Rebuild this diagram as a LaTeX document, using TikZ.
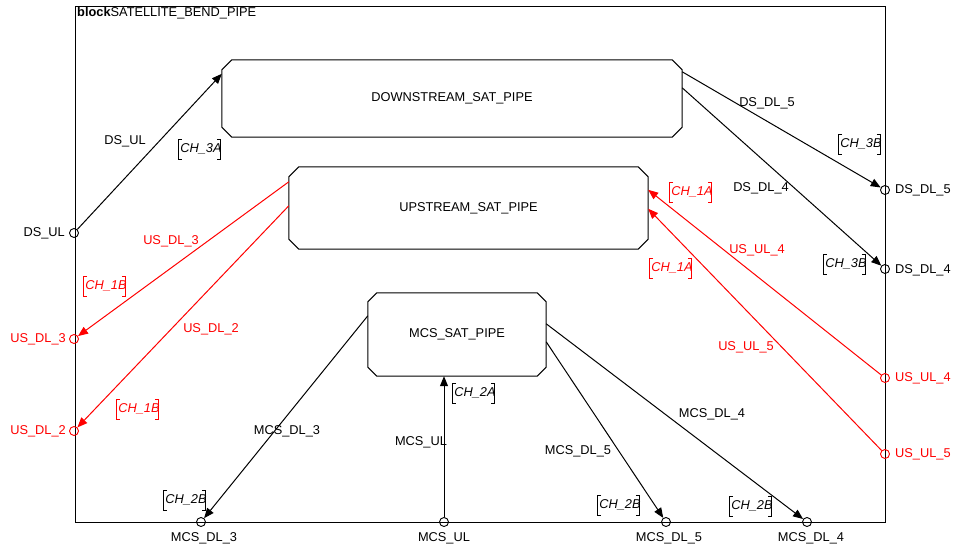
\documentclass[tikz,border=0pt]{standalone}
\usepackage{fontspec}
\setmainfont{Liberation Sans}
\usetikzlibrary{arrows.meta,calc}

\definecolor{linkred}{RGB}{255,0,0}

\tikzset{
  x=1pt, y=-1pt,
  every node/.style={font=\fontsize{12.8}{15}\selectfont, inner sep=0pt},
  frame/.style={draw, line width=1pt},
  octline/.style={draw, line width=1pt},
  port/.style={circle, draw, fill=none, line width=0.9pt, minimum size=9pt, inner sep=0pt},
  conn/.style={line width=1pt, -{Triangle[length=10pt,width=8pt]}},
  chtxt/.style={font=\fontsize{12.8}{15}\selectfont\itshape},
  brk/.style={line width=0.9pt},
}

% chamfered outline around a named rectangle node
\newcommand\octagon[2]{%
  \draw[octline]
    ($(#1.north west)+(#2,0)$) -- ($(#1.north east)+(-#2,0)$)
    -- ($(#1.north east)+(0,#2)$) -- ($(#1.south east)+(0,-#2)$)
    -- ($(#1.south east)+(-#2,0)$) -- ($(#1.south west)+(#2,0)$)
    -- ($(#1.south west)+(0,-#2)$) -- ($(#1.north west)+(0,#2)$) -- cycle;}

% channel tag: italic name between tall brackets
\newcommand\chtag[4]{%
  \node[chtxt, text=#4] (#1) at (#2) {#3};
  \draw[brk, #4] ($(#1.west)+(0,-10)$) ++(2,0) -- ++(-4,0) -- ++(0,20) -- ++(4,0);
  \draw[brk, #4] ($(#1.east)+(-5,-10)$) -- ++(4,0) -- ++(0,20) -- ++(-4,0);}

\begin{document}
\begin{tikzpicture}
\useasboundingbox (0,0) rectangle (954,549);

% enclosing block
\draw[frame] (75,6) rectangle (885,522);
\node[anchor=west] (title) at (77,13) {\textbf{block}SATELLITE\_BEND\_PIPE};

% inner parts
\node[minimum width=460pt, minimum height=77pt] (ds) at (452,98.5) {DOWNSTREAM\_SAT\_PIPE};
\node[minimum width=359pt, minimum height=82pt] (us) at (468.5,208) {UPSTREAM\_SAT\_PIPE};
\node[minimum width=178pt, minimum height=83pt] (mcs) at (457,334.5) {MCS\_SAT\_PIPE};
\octagon{ds}{10}
\octagon{us}{10}
\octagon{mcs}{9}

% ports
\node[port] (pdsul) at (74,233) {};
\node[port, draw=linkred] (pusdl3) at (74,339) {};
\node[port, draw=linkred] (pusdl2) at (74,431) {};
\node[port] (pdsdl5) at (885,190) {};
\node[port] (pdsdl4) at (885,269) {};
\node[port, draw=linkred] (pusul4) at (885,378) {};
\node[port, draw=linkred] (pusul5) at (885,454) {};
\node[port] (pmdl3) at (201,522) {};
\node[port] (pmul) at (444,522) {};
\node[port] (pmdl5) at (666,522) {};
\node[port] (pmdl4) at (807,522) {};

% port names
\node[anchor=east] (lpdsul) at (65,233) {DS\_UL};
\node[anchor=east, text=linkred] (lpusdl3) at (66,339) {US\_DL\_3};
\node[anchor=east, text=linkred] (lpusdl2) at (66,431) {US\_DL\_2};
\node[anchor=west] (lpdsdl5) at (895,190) {DS\_DL\_5};
\node[anchor=west] (lpdsdl4) at (895,270) {DS\_DL\_4};
\node[anchor=west, text=linkred] (lpusul4) at (895,378) {US\_UL\_4};
\node[anchor=west, text=linkred] (lpusul5) at (895,454) {US\_UL\_5};
\node (lpmdl3) at (204,538) {MCS\_DL\_3};
\node (lpmul) at (444,538) {MCS\_UL};
\node (lpmdl5) at (669,538) {MCS\_DL\_5};
\node (lpmdl4) at (811,538) {MCS\_DL\_4};

% connectors
\draw[conn] (pdsul) -- ($(ds.north west)+(0,14)$);
\draw[conn] ($(ds.north east)+(0,12)$) -- (pdsdl5);
\draw[conn] ($(ds.north east)+(0,28)$) -- (pdsdl4);
\draw[conn, linkred] ($(us.north west)+(0,15)$) -- (pusdl3);
\draw[conn, linkred] ($(us.north west)+(0,39)$) -- (pusdl2);
\draw[conn, linkred] (pusul4) -- ($(us.north east)+(0,23)$);
\draw[conn, linkred] (pusul5) -- ($(us.north east)+(0,42)$);
\draw[conn] ($(mcs.north west)+(0,23)$) -- (pmdl3);
\draw[conn] (pmul) -- (pmul |- mcs.south);
\draw[conn] ($(mcs.north east)+(0,49)$) -- (pmdl5);
\draw[conn] ($(mcs.north east)+(0,31)$) -- (pmdl4);

% connector names
\node (cdsul) at (125,141) {DS\_UL};
\node (cdsdl5) at (767,103) {DS\_DL\_5};
\node (cdsdl4) at (761,188) {DS\_DL\_4};
\node[text=linkred] (cusdl3) at (171,241) {US\_DL\_3};
\node[text=linkred] (cusdl2) at (211,329) {US\_DL\_2};
\node[text=linkred] (cusul4) at (757,250) {US\_UL\_4};
\node[text=linkred] (cusul5) at (746,347) {US\_UL\_5};
\node (cmdl3) at (287,431) {MCS\_DL\_3};
\node (cmul) at (421,442) {MCS\_UL};
\node (cmdl5) at (578,451) {MCS\_DL\_5};
\node (cmdl4) at (712,414) {MCS\_DL\_4};

% channel tags
\chtag{t3a}{201,149}{CH\_3A}{black}
\chtag{t3b1}{861,144}{CH\_3B}{black}
\chtag{t3b2}{846,264}{CH\_3B}{black}
\chtag{t1a1}{692,192}{CH\_1A}{linkred}
\chtag{t1a2}{672,268}{CH\_1A}{linkred}
\chtag{t1b1}{106,286}{CH\_1B}{linkred}
\chtag{t1b2}{139,409}{CH\_1B}{linkred}
\chtag{t2a}{475,393}{CH\_2A}{black}
\chtag{t2b1}{186,500}{CH\_2B}{black}
\chtag{t2b2}{620,505}{CH\_2B}{black}
\chtag{t2b3}{752,506}{CH\_2B}{black}
\end{tikzpicture}
\end{document}
